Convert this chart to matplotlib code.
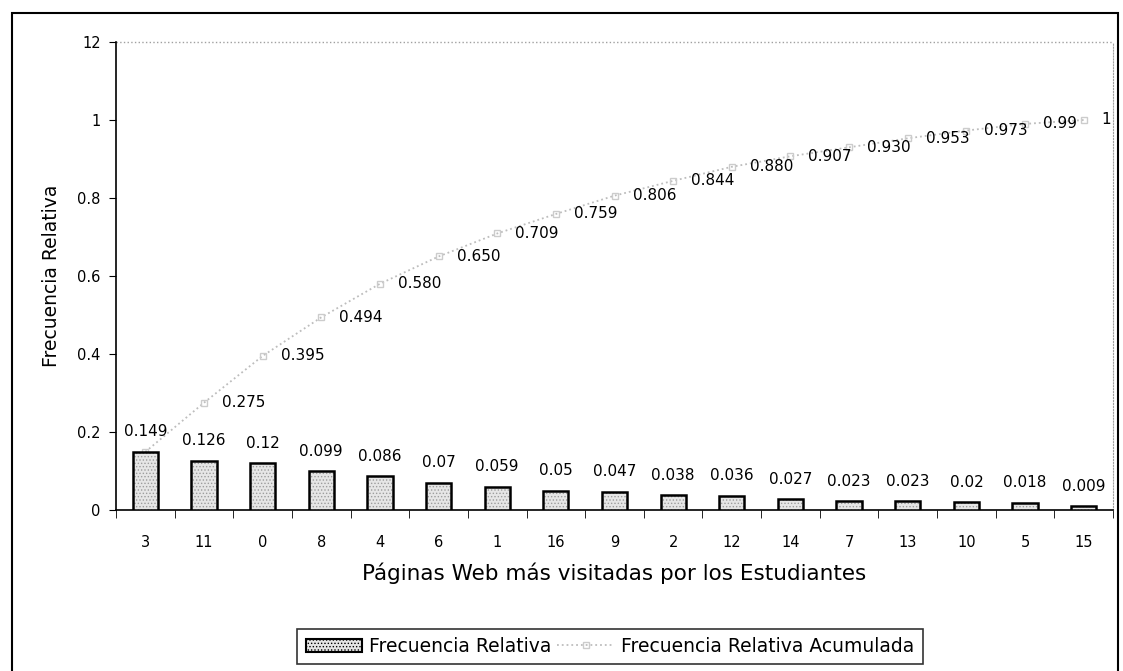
import numpy as np
import matplotlib
matplotlib.use("Agg")
import matplotlib.pyplot as plt
from matplotlib.patches import Rectangle

plt.rcParams['font.family'] = ['DejaVu Sans']
plt.rcParams['hatch.linewidth'] = 0.6

# datos
paginas = ['3', '11', '0', '8', '4', '6', '1', '16', '9', '2', '12', '14', '7', '13', '10', '5', '15']
frec_rel = [0.149, 0.126, 0.12, 0.099, 0.086, 0.07, 0.059, 0.05, 0.047,
            0.038, 0.036, 0.027, 0.023, 0.023, 0.02, 0.018, 0.009]
frec_rel_lbl = ['0.149', '0.126', '0.12', '0.099', '0.086', '0.07', '0.059', '0.05', '0.047',
                '0.038', '0.036', '0.027', '0.023', '0.023', '0.02', '0.018', '0.009']
frec_acum = [0.149, 0.275, 0.395, 0.494, 0.580, 0.650, 0.709, 0.759, 0.806,
             0.844, 0.880, 0.907, 0.930, 0.953, 0.973, 0.99, 1.0]
frec_acum_lbl = ['0.149', '0.275', '0.395', '0.494', '0.580', '0.650', '0.709', '0.759', '0.806',
                 '0.844', '0.880', '0.907', '0.930', '0.953', '0.973', '0.99', '1']
yticks = [0, 0.2, 0.4, 0.6, 0.8, 1.0, 1.2]
ytick_lbl = ['0', '0.2', '0.4', '0.6', '0.8', '1', '12']

W, H = 1123, 671
fig = plt.figure(figsize=(W / 100, H / 100), dpi=100)
ax = fig.add_axes([116 / W, 1 - 510 / H, (1113 - 116) / W, (510 - 42) / H])

x = np.arange(len(paginas))
# relleno punteado + borde negro
ax.bar(x, frec_rel, width=0.43, color='#e6e6e6', edgecolor='#9c9c9c',
       hatch='.....', linewidth=0, zorder=3)
bars = ax.bar(x, frec_rel, width=0.43, fill=False, edgecolor='black',
              linewidth=1.8, label='Frecuencia Relativa', zorder=4)
line, = ax.plot(x, frec_acum, linestyle=':', color='#bdbdbd', linewidth=1.3,
                marker='s', markersize=5, markerfacecolor='none',
                markeredgecolor='#cccccc', label='Frecuencia Relativa Acumulada', zorder=2)

for xi, v, t in zip(x, frec_rel, frec_rel_lbl):
    ax.annotate(t, (xi, v), xytext=(0, 9), textcoords='offset points',
                ha='center', va='bottom', fontsize=11)
for xi, v, t in zip(x[1:], frec_acum[1:], frec_acum_lbl[1:]):
    ax.annotate(t, (xi, v), xytext=(13, 0), textcoords='offset points',
                ha='left', va='center', fontsize=11)

ax.set_xlim(-0.5, len(paginas) - 0.5)
ax.set_ylim(0, 1.2)
ax.set_yticks(yticks)
ax.set_yticklabels(ytick_lbl, fontsize=10.5)
ax.set_xticks(x)
ax.set_xticklabels(paginas, fontsize=10.5)
ax.tick_params(axis='x', length=0, pad=18)
ax.set_xticks(np.arange(-0.5, len(paginas)), minor=True)
ax.tick_params(axis='x', which='minor', length=6, direction='out')
ax.tick_params(axis='y', length=5, direction='out', pad=6)

ax.spines['top'].set_visible(False)
ax.spines['right'].set_linestyle(':')
ax.spines['right'].set_color('#a0a0a0')
ax.axhline(1.2, color='#a0a0a0', linestyle=':', linewidth=1, clip_on=False)
ax.spines['left'].set_linewidth(1.2)
ax.spines['bottom'].set_linewidth(1.2)

ax.set_xlabel('Páginas Web más visitadas por los Estudiantes', fontsize=15.5, labelpad=9)
ax.set_ylabel('Frecuencia Relativa', fontsize=13.5, labelpad=12)

fill_handle = Rectangle((0, 0), 1, 1, facecolor='#e6e6e6', edgecolor='black',
                        hatch='.....', linewidth=1.5)
leg = fig.legend(handles=[fill_handle, line], labels=['Frecuencia Relativa', 'Frecuencia Relativa Acumulada'],
                 loc='center', bbox_to_anchor=(610 / W, 1 - 646.5 / H),
                 ncol=2, fontsize=13.5, frameon=True, fancybox=False,
                 edgecolor='black', handlelength=3.0, handletextpad=0.4,
                 columnspacing=0.3, borderpad=0.45)
leg.get_frame().set_linewidth(1.2)

fig.patches.append(Rectangle((12 / W, -0.01), (1118 - 12) / W, 1 - 13 / H + 0.01,
                             transform=fig.transFigure, fill=False,
                             edgecolor='black', linewidth=1.5))

fig.savefig('out.png', dpi=100)
